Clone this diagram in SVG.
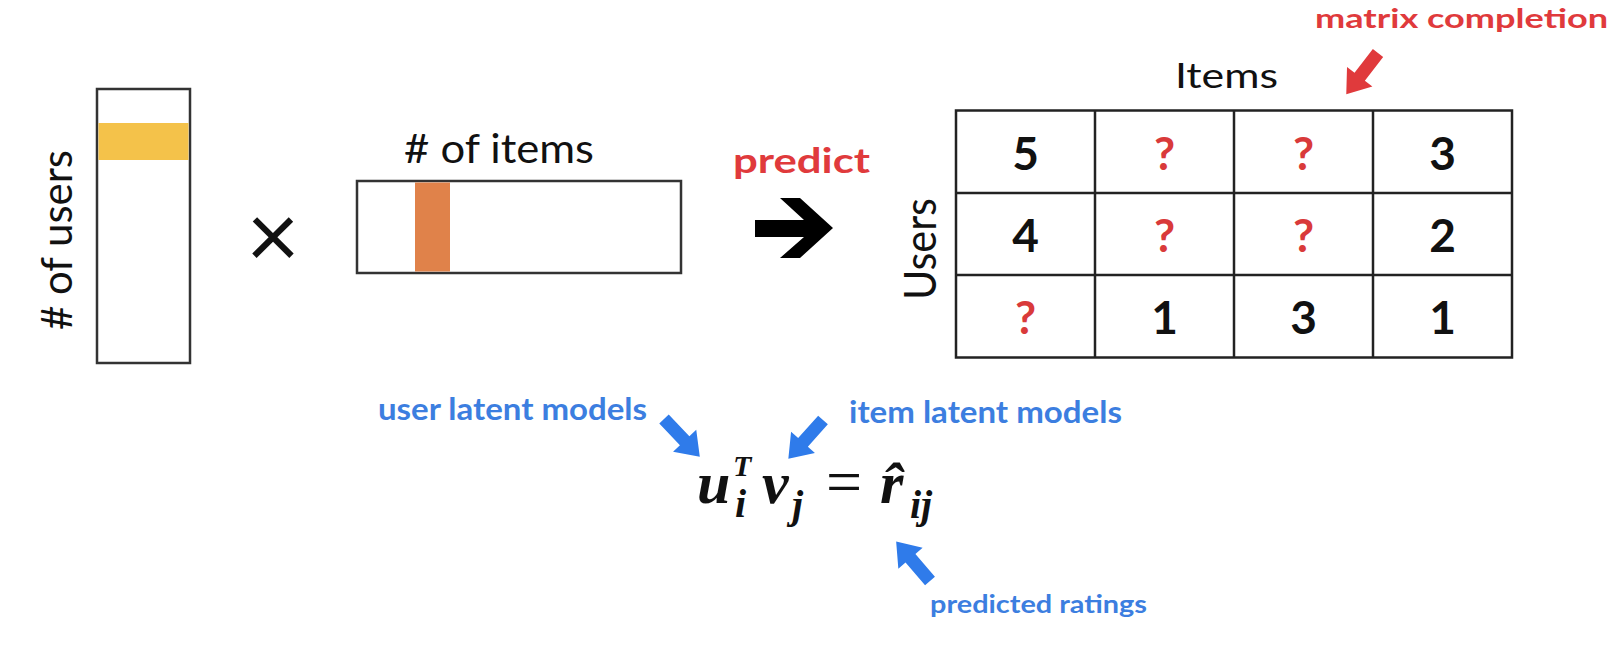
<svg xmlns="http://www.w3.org/2000/svg" xmlns:xlink="http://www.w3.org/1999/xlink" width="1620" height="646" viewBox="0 0 1620 646">
<style>
.box{fill:#fff;stroke:#333;stroke-width:2.5}
.grid{fill:none;stroke:#222;stroke-width:2.5}
.lbl{font-family:Lato,"Open Sans","Liberation Sans",sans-serif;fill:#111}
.num{font-family:Lato,"Open Sans","Liberation Sans",sans-serif;font-weight:bold;font-size:46px;text-anchor:middle;fill:#111}
.q{fill:#D93A3A}
.red{font-family:Lato,"Open Sans","Liberation Sans",sans-serif;font-weight:bold;fill:#E03A3C}
.blue{font-family:Lato,"Open Sans","Liberation Sans",sans-serif;font-weight:bold;fill:#3C7EE0}
.math{font-family:"Liberation Serif","Times New Roman",serif;font-weight:bold;font-style:italic;fill:#111}
</style>
<defs>
<path id="barrow" d="M0,-6.5 L30,-6.5 L30,-16 L52,0 L30,16 L30,6.5 L0,6.5 Z"/>
</defs>
<rect width="1620" height="646" fill="#fff"/>

<g id="user-matrix">
<rect class="box" x="97" y="89" width="93" height="274"/>
<rect x="98.5" y="123" width="90" height="37" fill="#F4C24A"/>
<text class="lbl" font-size="42" text-anchor="middle" textLength="180" lengthAdjust="spacingAndGlyphs" transform="translate(72,240) rotate(-90)">#&#160;of users</text>
</g>

<g id="times">
<text class="lbl" x="273" y="268" font-size="92" text-anchor="middle" font-family="'Liberation Sans',sans-serif">×</text>
</g>

<g id="item-matrix">
<rect class="box" x="357" y="181" width="324" height="92"/>
<rect x="415" y="182.5" width="35" height="89" fill="#E0824A"/>
<text class="lbl" x="404" y="163" font-size="40" textLength="190" lengthAdjust="spacingAndGlyphs">#&#160;of items</text>
</g>

<g id="predict">
<text class="red" x="733" y="173" font-size="34" textLength="137" lengthAdjust="spacingAndGlyphs">predict</text>
<polygon points="755,220 804,220 780,198 800,198 833,228 800,258 780,258 804,237 755,237" fill="#000"/>
</g>

<g id="rating-matrix">
<text class="lbl" x="1175" y="88" font-size="35" textLength="103" lengthAdjust="spacingAndGlyphs">Items</text>
<text class="lbl" font-size="44" text-anchor="middle" textLength="102" lengthAdjust="spacingAndGlyphs" transform="translate(936,249) rotate(-90)">Users</text>
<rect class="grid" x="956" y="110.5" width="556" height="247"/>
<line class="grid" x1="1095" y1="110.5" x2="1095" y2="357.5"/>
<line class="grid" x1="1234" y1="110.5" x2="1234" y2="357.5"/>
<line class="grid" x1="1373" y1="110.5" x2="1373" y2="357.5"/>
<line class="grid" x1="956" y1="193" x2="1512" y2="193"/>
<line class="grid" x1="956" y1="275" x2="1512" y2="275"/>
<text class="num" x="1025.5" y="170">5</text>
<text class="num q" x="1164.5" y="170">?</text>
<text class="num q" x="1303.5" y="170">?</text>
<text class="num" x="1442.5" y="170">3</text>
<text class="num" x="1025.5" y="252">4</text>
<text class="num q" x="1164.5" y="252">?</text>
<text class="num q" x="1303.5" y="252">?</text>
<text class="num" x="1442.5" y="252">2</text>
<text class="num q" x="1025.5" y="334">?</text>
<text class="num" x="1164.5" y="334">1</text>
<text class="num" x="1303.5" y="334">3</text>
<text class="num" x="1442.5" y="334">1</text>
</g>

<g id="matrix-completion">
<text class="red" x="1315" y="28" font-size="27" textLength="293" lengthAdjust="spacingAndGlyphs">matrix completion</text>
</g>

<g id="formula">
<text class="math" x="697" y="503" font-size="60">u</text>
<text class="math" x="733" y="476" font-size="30">T</text>
<text class="math" x="735" y="517" font-size="40">i</text>
<text class="math" x="762" y="503" font-size="60">v</text>
<text class="math" x="792" y="518" font-size="40">j</text>
<text x="826" y="503" font-size="64" font-family="'Liberation Serif',serif" fill="#111">=</text>
<text class="math" x="880" y="503" font-size="60">r&#770;</text>
<text class="math" x="910" y="518" font-size="40">ij</text>
</g>

<g id="user-latent">
<text class="blue" x="378" y="420" font-size="30" textLength="269" lengthAdjust="spacingAndGlyphs">user latent models</text>
</g>
<g id="item-latent">
<text class="blue" x="849" y="423" font-size="30" textLength="273" lengthAdjust="spacingAndGlyphs">item latent models</text>
</g>
<g id="predicted-ratings">
<text class="blue" x="930" y="613" font-size="24" textLength="217" lengthAdjust="spacingAndGlyphs">predicted ratings</text>
</g>

<g id="connectors">
<use xlink:href="#barrow" fill="#2F7BEA" transform="translate(664,419) rotate(46.5)"/>
<use xlink:href="#barrow" fill="#2F7BEA" transform="translate(823,420) rotate(131.8)"/>
<use xlink:href="#barrow" fill="#2F7BEA" transform="translate(930,581) rotate(229.4)"/>
<use xlink:href="#barrow" fill="#E03A3C" transform="translate(1378,53) rotate(127.6)"/>
</g>
</svg>
